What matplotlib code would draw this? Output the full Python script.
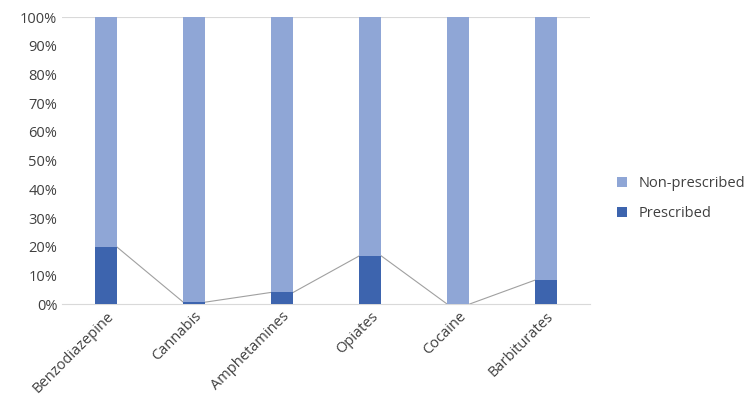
import matplotlib.pyplot as plt
from matplotlib.ticker import PercentFormatter

plt.rcParams['font.family'] = ['Open Sans', 'DejaVu Sans']

drugs = ["Benzodiazepine", "Cannabis", "Amphetamines", "Opiates", "Cocaine", "Barbiturates"]
prescribed = [19.8, 0.7, 4.1, 16.8, 0.0, 8.4]
non_prescribed = [100 - p for p in prescribed]

fig = plt.figure(figsize=(7.5, 4.05), dpi=100)
ax = fig.add_axes([0.083, 0.249, 0.704, 0.709])

x = list(range(len(drugs)))
w = 0.25
ax.bar(x, prescribed, width=w, color="#3D64AE", label="Prescribed", zorder=3)
ax.bar(x, non_prescribed, bottom=prescribed, width=w, color="#8FA6D6",
       label="Non-prescribed", zorder=3)

# series lines between the prescribed tops
for i in range(len(drugs) - 1):
    ax.plot([x[i] + w / 2, x[i + 1] - w / 2], [prescribed[i], prescribed[i + 1]],
            color="#A0A0A0", lw=0.8, zorder=2)

ax.set_xlim(-0.5, len(drugs) - 0.5)
ax.set_ylim(0, 100)
ax.set_yticks(range(0, 101, 10))
ax.yaxis.set_major_formatter(PercentFormatter(decimals=0))
ax.axhline(100, color="#D9D9D9", lw=0.8, zorder=1)
for s in ["top", "right", "left"]:
    ax.spines[s].set_visible(False)
ax.spines["bottom"].set_color("#D9D9D9")
ax.tick_params(length=0, labelsize=10.5, colors="#404040")
ax.set_xticks(x)
ax.set_xticklabels(drugs, rotation=45, ha="right", rotation_mode="anchor")

handles, labels = ax.get_legend_handles_labels()
fig.legend(handles[::-1], labels[::-1], loc="center left", bbox_to_anchor=(0.805, 0.51),
           frameon=False, fontsize=10.5, handlelength=0.7, handleheight=0.7,
           labelspacing=1.0, labelcolor="#404040")

fig.savefig("out.png", dpi=100)
